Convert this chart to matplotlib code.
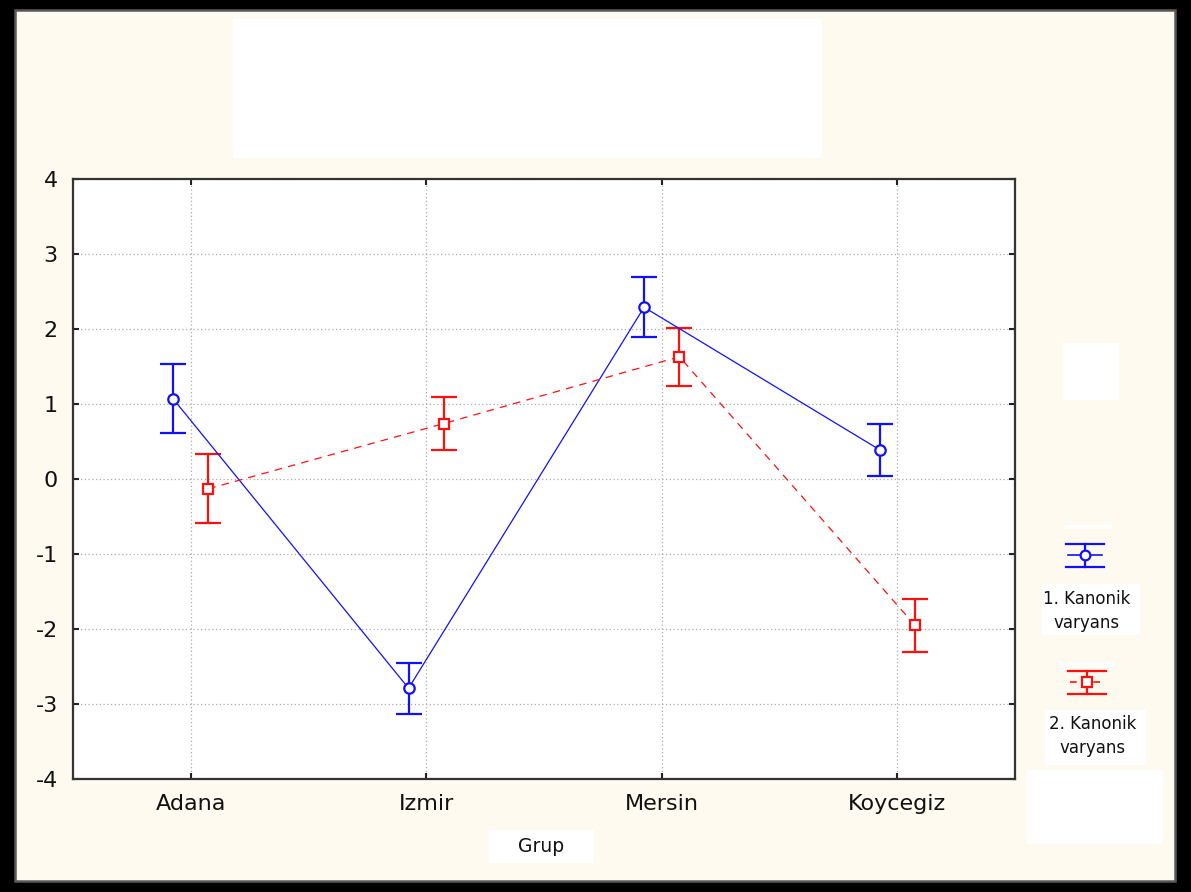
import numpy as np
import matplotlib
matplotlib.use("Agg")
import matplotlib.pyplot as plt
from matplotlib.patches import Rectangle
from matplotlib.lines import Line2D

# Group categories and canonical variate means with symmetric error half-widths
groups = ["Adana", "Izmir", "Mersin", "Koycegiz"]
kanonik1_mean = [1.07, -2.79, 2.29, 0.39]
kanonik1_err = [0.46, 0.34, 0.40, 0.35]
kanonik2_mean = [-0.13, 0.74, 1.63, -1.95]
kanonik2_err = [0.46, 0.35, 0.39, 0.35]
yticks = [-4, -3, -2, -1, 0, 1, 2, 3, 4]
legend_labels = ["1. Kanonik\nvaryans", "2. Kanonik\nvaryans"]

W, H = 1191, 892
CREAM = "#FFFAEF"
BLUE = "#1010FF"
RED = "#FF1010"
TEXT = "#111111"

plt.rcParams["font.family"] = ["DejaVu Sans"]

fig = plt.figure(figsize=(W / 100, H / 100), dpi=100)
fig.patch.set_facecolor("black")


def fx(x):
    return x / W


def fy(y):
    return 1 - y / H


def box(x0, y0, x1, y1, fc, ec="none", lw=0, z=0):
    fig.add_artist(Rectangle((fx(x0), fy(y1)), fx(x1) - fx(x0), fy(y0) - fy(y1),
                             transform=fig.transFigure, facecolor=fc,
                             edgecolor=ec, linewidth=lw, zorder=z))


# Window panel and the blank label boxes
box(15, 10, 1175, 881, CREAM, ec="#5a5a5a", lw=1.8, z=0)
box(233, 19, 822, 158, "white", z=1)
box(1063, 343, 1119, 400, "white", z=1)
box(1065, 525, 1112, 529, "white", z=1)
box(1042, 584, 1140, 635, "white", z=1)
box(1060, 662, 1114, 667, "white", z=1)
box(1045, 710, 1146, 765, "white", z=1)
box(1027, 770, 1163, 844, "white", z=1)
box(489, 830, 594, 863, "white", z=1)

ax = fig.add_axes([fx(73), fy(779), fx(1015) - fx(73), fy(179) - fy(779)])
ax.set_facecolor("white")

x = np.arange(1, len(groups) + 1)
off = 0.075

ax.errorbar(x - off, kanonik1_mean, yerr=kanonik1_err, color=BLUE,
            linestyle="-", linewidth=0.9, elinewidth=1.6, capsize=9.5,
            capthick=1.6, marker="o", markersize=7.5, markerfacecolor="white",
            markeredgecolor=BLUE, markeredgewidth=1.6, zorder=4)
ax.errorbar(x + off, kanonik2_mean, yerr=kanonik2_err, color=RED,
            linestyle=(0, (6, 5)), linewidth=0.9, elinewidth=1.6, capsize=9.5,
            capthick=1.6, marker="s", markersize=7.5, markerfacecolor="white",
            markeredgecolor=RED, markeredgewidth=1.6, zorder=4)

ax.set_xlim(0.5, 4.5)
ax.set_ylim(-4, 4)
ax.set_xticks(x)
ax.set_xticklabels(groups)
ax.set_yticks(yticks)
ax.set_yticklabels([str(v) for v in yticks])
ax.grid(True, color="#aaaaaa", linestyle=(0, (1, 2)), linewidth=0.9)
ax.set_axisbelow(True)
ax.tick_params(direction="in", length=4, width=1.5, color="#222222",
               labelsize=16, labelcolor=TEXT, pad=11,
               top=True, right=True)
for s in ax.spines.values():
    s.set_linewidth(1.6)
    s.set_color("#333333")

fig.text(fx(541), fy(847), "Grup", ha="center", va="center", fontsize=13.5,
         color=TEXT, zorder=3)


# Legend glyphs: error bar with marker and a short line segment
def legend_glyph(cx, cy, color, marker, ls):
    half = 19
    cap_dy = 11.5
    fig.add_artist(Line2D([fx(cx - half), fx(cx + half)], [fy(cy - cap_dy)] * 2,
                          transform=fig.transFigure, color=color, lw=1.6, zorder=3))
    fig.add_artist(Line2D([fx(cx - half), fx(cx + half)], [fy(cy + cap_dy)] * 2,
                          transform=fig.transFigure, color=color, lw=1.6, zorder=3))
    fig.add_artist(Line2D([fx(cx)] * 2, [fy(cy - cap_dy), fy(cy + cap_dy)],
                          transform=fig.transFigure, color=color, lw=1.6, zorder=3))
    fig.add_artist(Line2D([fx(cx - half + 2), fx(cx + half - 2)], [fy(cy)] * 2,
                          transform=fig.transFigure, color=color, lw=1.2,
                          linestyle=ls, zorder=3))
    fig.add_artist(Line2D([fx(cx)], [fy(cy)], transform=fig.transFigure,
                          marker=marker, markersize=7, markerfacecolor="white",
                          markeredgecolor=color, markeredgewidth=1.6,
                          linestyle="none", zorder=4))


legend_glyph(1085, 555, BLUE, "o", "-")
legend_glyph(1087, 682, RED, "s", (0, (4, 3)))

fig.text(fx(1087), fy(611), legend_labels[0], ha="center", va="center",
         fontsize=12, color=TEXT, linespacing=1.45, zorder=3)
fig.text(fx(1093), fy(736), legend_labels[1], ha="center", va="center",
         fontsize=12, color=TEXT, linespacing=1.45, zorder=3)

fig.savefig("out.png", dpi=100, facecolor=fig.get_facecolor())
